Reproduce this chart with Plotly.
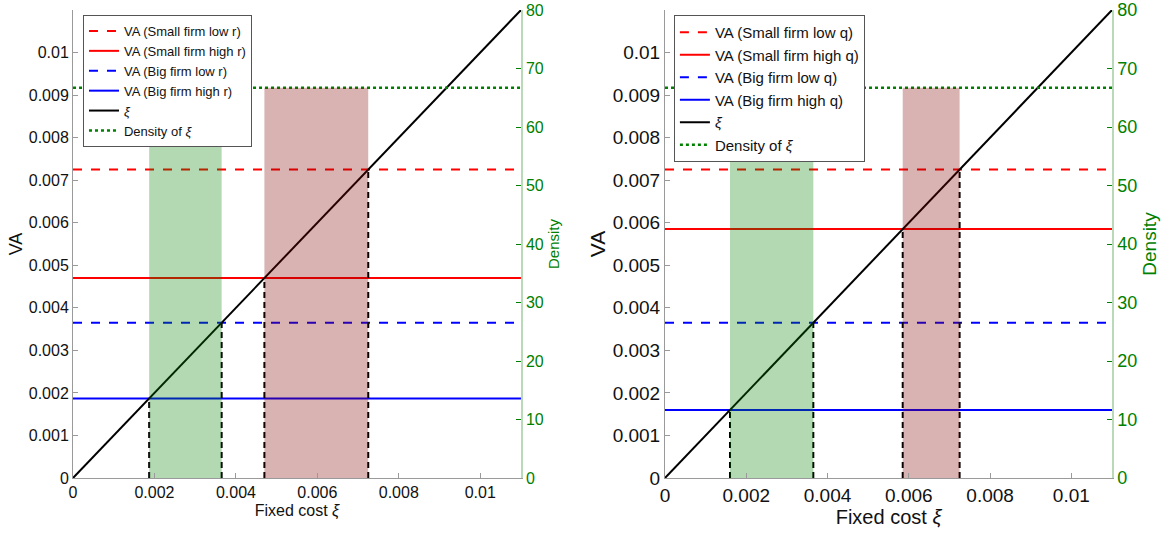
import plotly.graph_objects as go

# Value-added thresholds for each firm type (left panel: interest rate r, right: productivity q)
r_labels = ["VA (Small firm low r)", "VA (Small firm high r)", "VA (Big firm low r)", "VA (Big firm high r)"]
r_values = [0.00725, 0.0047, 0.00365, 0.00187]
q_labels = ["VA (Small firm low q)", "VA (Small firm high q)", "VA (Big firm low q)", "VA (Big firm high q)"]
q_values = [0.00725, 0.00585, 0.00365, 0.0016]

# Uniform density of the fixed cost xi
density = 66.7

# Axis ranges and ticks
x_range = [0, 0.011]
va_range = [0, 0.011]
dens_range = [0, 80]
x_ticks = [0, 0.002, 0.004, 0.006, 0.008, 0.01]
x_ticktext = ["0", "0.002", "0.004", "0.006", "0.008", "0.01"]
va_ticks = [0, 0.001, 0.002, 0.003, 0.004, 0.005, 0.006, 0.007, 0.008, 0.009, 0.01]
va_ticktext = ["0", "0.001", "0.002", "0.003", "0.004", "0.005", "0.006", "0.007", "0.008", "0.009", "0.01"]
dens_ticks = [0, 10, 20, 30, 40, 50, 60, 70, 80]

line_colors = ["#ff0000", "#ff0000", "#0000ff", "#0000ff"]
line_dashes = ["dash", "solid", "dash", "solid"]
GREEN = "#008000"
TEXT = "#111111"
FONT = "Liberation Sans, Arial, Helvetica, sans-serif"

fig = go.Figure()


def add_panel(labels, values, xa, ya_va, ya_dens, legend, lw):
    small_low, small_high, big_low, big_high = values
    # horizontal VA lines
    for lab, v, c, d in zip(labels, values, line_colors, line_dashes):
        fig.add_trace(go.Scatter(
            x=[x_range[0], x_range[1]], y=[v, v], mode="lines", name=lab,
            line=dict(color=c, dash=d, width=lw), xaxis=xa, yaxis=ya_va, legend=legend))
    # 45-degree line xi
    fig.add_trace(go.Scatter(
        x=[x_range[0], x_range[1]], y=[x_range[0], x_range[1]], mode="lines", name="<i>ξ</i>",
        line=dict(color="black", width=lw), xaxis=xa, yaxis=ya_va, legend=legend))
    # vertical dashed drops from the 45-degree line at each threshold
    vx, vy = [], []
    for v in values:
        vx += [v, v, None]
        vy += [0, v, None]
    fig.add_trace(go.Scatter(
        x=vx, y=vy, mode="lines", showlegend=False,
        line=dict(color="black", dash="6px,4px", width=lw), xaxis=xa, yaxis=ya_va, legend=legend))
    # density of xi
    fig.add_trace(go.Scatter(
        x=[x_range[0], x_range[1]], y=[density, density], mode="lines", name="Density of <i>ξ</i>",
        line=dict(color=GREEN, dash="dot", width=lw + 0.5), xaxis=xa, yaxis=ya_dens, legend=legend))
    # shaded probability masses
    for lo, hi, fc in [(big_high, big_low, "rgba(0,128,0,0.3)"),
                       (small_high, small_low, "rgba(128,0,0,0.3)")]:
        fig.add_trace(go.Scatter(
            x=[lo, hi, hi, lo, lo], y=[0, 0, density, density, 0], mode="lines",
            fill="toself", fillcolor=fc, line=dict(width=0), showlegend=False,
            hoverinfo="skip", xaxis=xa, yaxis=ya_dens, legend=legend))


add_panel(r_labels, r_values, "x", "y", "y2", "legend", 2)
add_panel(q_labels, q_values, "x2", "y3", "y4", "legend2", 2)

ydom = [0.1082, 0.9813]


def xaxis_cfg(dom, fs, tfs, standoff):
    return dict(domain=dom, range=x_range, tickvals=x_ticks, ticktext=x_ticktext, automargin=False,
                showline=True, linecolor="#9a9a9a", linewidth=1, ticks="inside", ticklen=5,
                tickcolor="#9a9a9a", showgrid=False, zeroline=False, ticklabeloverflow="allow",
                tickfont=dict(size=fs, color=TEXT, family=FONT),
                title=dict(text="Fixed cost <i>ξ</i>", font=dict(size=tfs, color=TEXT, family=FONT),
                           standoff=standoff))


def va_cfg(anchor, fs, tfs, standoff):
    return dict(domain=ydom, anchor=anchor, range=va_range, tickvals=va_ticks, ticktext=va_ticktext,
                automargin=False, ticklabeloverflow="allow",
                showline=True, linecolor="#9a9a9a", linewidth=1, ticks="inside", ticklen=5,
                tickcolor="#9a9a9a", showgrid=False, zeroline=False,
                tickfont=dict(size=fs, color=TEXT, family=FONT),
                title=dict(text="VA", font=dict(size=tfs, color=TEXT, family=FONT), standoff=standoff))


def dens_cfg(anchor, over, fs, tfs, standoff):
    return dict(anchor=anchor, overlaying=over, side="right", range=dens_range, tickvals=dens_ticks,
                automargin=False, ticklabeloverflow="allow",
                showline=True, linecolor="#b8dab8", linewidth=1.5, ticks="inside", ticklen=5,
                tickcolor=GREEN, showgrid=False, zeroline=False,
                tickfont=dict(size=fs, color=GREEN, family=FONT),
                title=dict(text="Density", font=dict(size=tfs, color=GREEN, family=FONT), standoff=standoff))


fig.update_layout(
    width=1172, height=536,
    margin=dict(l=0, r=0, t=0, b=0),
    paper_bgcolor="white", plot_bgcolor="white",
    font=dict(family=FONT),
    showlegend=True,
    xaxis=xaxis_cfg([0.0623, 0.4445], 16, 16, 4),
    yaxis=va_cfg("x", 16, 18, 1),
    yaxis2=dens_cfg("x", "y", 16, 15, 6),
    xaxis2=xaxis_cfg([0.5674, 0.9488], 19, 20, 4),
    yaxis3=va_cfg("x2", 19, 21, 1),
    yaxis4=dens_cfg("x2", "y3", 18, 19, 6),
    legend=dict(x=0.0708, y=0.972, xanchor="left", yanchor="top", bgcolor="white",
                bordercolor="#555555", borderwidth=1, font=dict(size=13, color=TEXT, family=FONT),
                tracegroupgap=0, itemwidth=30),
    legend2=dict(x=0.575, y=0.972, xanchor="left", yanchor="top", bgcolor="white",
                 bordercolor="#555555", borderwidth=1, font=dict(size=15, color=TEXT, family=FONT),
                 tracegroupgap=0, itemwidth=30),
)

fig.write_html("out.html")
